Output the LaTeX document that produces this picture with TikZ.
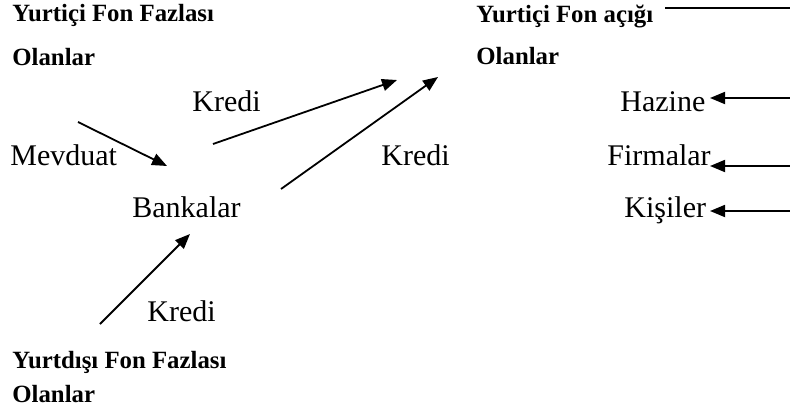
\documentclass[tikz,border=0pt]{standalone}
\usepackage{fontspec}
\setmainfont{Liberation Serif}
\usetikzlibrary{arrows.meta}
\begin{document}
\begin{tikzpicture}[x=0.5pt,y=-0.5pt,
  bold/.style={anchor=base west,inner sep=0pt,font=\fontsize{12.4}{14}\selectfont\bfseries},
  reg/.style={anchor=base west,inner sep=0pt,font=\fontsize{15}{18}\selectfont},
  arr/.style={line width=0.9pt,-{Triangle[length=7.5pt,width=6pt]}},
  ln/.style={line width=0.9pt}]
\useasboundingbox (0,0) rectangle (790,417);
% texts
\node[bold] (t1) at (12,22) {Yurtiçi Fon Fazlası};
\node[bold] (t2) at (12,66) {Olanlar};
\node[bold] (t3) at (476,23) {Yurtiçi Fon açığı};
\node[bold] (t4) at (476,65) {Olanlar};
\node[bold] (t5) at (12,368) {Yurtdışı Fon Fazlası};
\node[bold] (t6) at (12,402) {Olanlar};
\node[reg] (k1) at (192,112) {Kredi};
\node[reg] (hz) at (620,112) {Hazine};
\node[reg] (mv) at (10,165) {Mevduat};
\node[reg] (k2) at (381,165) {Kredi};
\node[reg] (fr) at (607,165) {Firmalar};
\node[reg] (bk) at (132,217) {Bankalar};
\node[reg] (ks) at (624,217) {Kişiler};
\node[reg] (k3) at (147,321) {Kredi};
% connector ends
\coordinate (a1s) at (78,122);  \coordinate (a1e) at (167,166);
\coordinate (a2s) at (213,144); \coordinate (a2e) at (397,80);
\coordinate (a3s) at (281,189); \coordinate (a3e) at (438,77);
\coordinate (a4s) at (100,324); \coordinate (a4e) at (190,234);
\coordinate (l1s) at (665,8);   \coordinate (l1e) at (790,8);
\coordinate (h1s) at (790,98);  \coordinate (h1e) at (710,98);
\coordinate (f1s) at (790,166); \coordinate (f1e) at (710,166);
\coordinate (p1s) at (790,211); \coordinate (p1e) at (710,211);
% connectors
\draw[arr] (a1s) -- (a1e);
\draw[arr] (a2s) -- (a2e);
\draw[arr] (a3s) -- (a3e);
\draw[arr] (a4s) -- (a4e);
\draw[ln] (l1s) -- (l1e);
\draw[arr] (h1s) -- (h1e);
\draw[arr] (f1s) -- (f1e);
\draw[arr] (p1s) -- (p1e);
\end{tikzpicture}
\end{document}
